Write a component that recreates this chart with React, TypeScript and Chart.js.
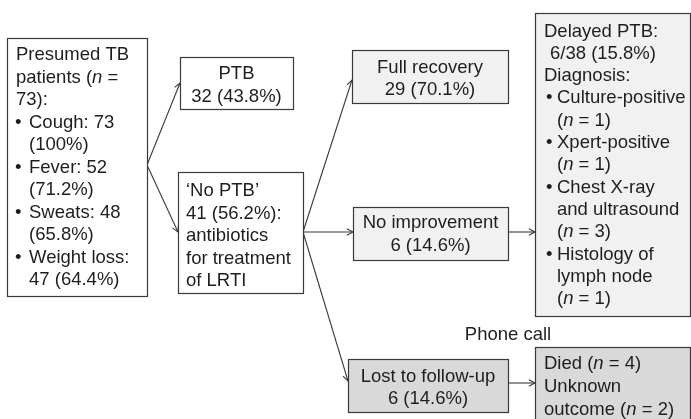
import React, { useEffect, useRef } from "react";
import { Chart, registerables } from "chart.js";

Chart.register(...registerables);

// ---- Texts of the flowchart (data) ----
// "• " starts a bullet line, "~" marks a continuation line under a bullet,
// "^" marks a small indent; *...* is italic.
const startLines = [
  "Presumed TB",
  "patients (*n* =",
  "73):",
  "• Cough: 73",
  "~(100%)",
  "• Fever: 52",
  "~(71.2%)",
  "• Sweats: 48",
  "~(65.8%)",
  "• Weight loss:",
  "~47 (64.4%)",
];
const ptbLines = ["PTB", "32 (43.8%)"];
const noPtbLines = ["‘No PTB’", "41 (56.2%):", "antibiotics", "for treatment", "of LRTI"];
const recoveryLines = ["Full recovery", "29 (70.1%)"];
const noImproveLines = ["No improvement", "6 (14.6%)"];
const delayedLines = [
  "Delayed PTB:",
  "^6/38 (15.8%)",
  "Diagnosis:",
  "• Culture-positive",
  "~(*n* = 1)",
  "• Xpert-positive",
  "~(*n* = 1)",
  "• Chest X-ray",
  "~and ultrasound",
  "~(*n* = 3)",
  "• Histology of",
  "~lymph node",
  "~(*n* = 1)",
];
const lostLines = ["Lost to follow-up", "6 (14.6%)"];
const outcomeLines = ["Died (*n* = 4)", "Unknown", "outcome (*n* = 2)"];
const phoneLabel = "Phone call";

// ---- Layout (positions in the 691 x 419 frame, mapped through the scales) ----
type Box = {
  lines: string[];
  x0: number; y0: number; x1: number; y1: number;
  fill: string;
  align: "left" | "center";
  tx: number; bx: number; ix: number; cx: number;
  base: number; step: number;
};

const WHITE = "#ffffff";
const LIGHT = "#f1f1f1";
const DARK = "#d9d9d9";

const boxes: Box[] = [
  { lines: startLines, x0: 7, y0: 38, x1: 147, y1: 296, fill: WHITE, align: "left", tx: 16, bx: 15, ix: 16, cx: 29, base: 60, step: 22.5 },
  { lines: ptbLines, x0: 180, y0: 57, x1: 293, y1: 109, fill: WHITE, align: "center", tx: 0, bx: 0, ix: 0, cx: 0, base: 79, step: 22.5 },
  { lines: noPtbLines, x0: 178, y0: 172, x1: 303, y1: 293, fill: WHITE, align: "left", tx: 186, bx: 186, ix: 186, cx: 186, base: 196, step: 22.5 },
  { lines: recoveryLines, x0: 352, y0: 50, x1: 508, y1: 103, fill: LIGHT, align: "center", tx: 0, bx: 0, ix: 0, cx: 0, base: 72.5, step: 22.5 },
  { lines: noImproveLines, x0: 353, y0: 207, x1: 508, y1: 260, fill: LIGHT, align: "center", tx: 0, bx: 0, ix: 0, cx: 0, base: 228, step: 22.5 },
  { lines: delayedLines, x0: 535, y0: 13, x1: 690, y1: 316, fill: LIGHT, align: "left", tx: 544, bx: 546, ix: 550, cx: 557, base: 36.5, step: 22.3 },
  { lines: lostLines, x0: 348, y0: 359, x1: 508, y1: 412, fill: DARK, align: "center", tx: 0, bx: 0, ix: 0, cx: 0, base: 381.5, step: 22.5 },
  { lines: outcomeLines, x0: 535, y0: 347, x1: 690, y1: 430, fill: DARK, align: "left", tx: 544, bx: 544, ix: 544, cx: 544, base: 369, step: 23 },
];

const arrows: [number, number, number, number][] = [
  [147, 165, 180, 83],
  [147, 165, 178, 232],
  [303, 232, 352, 80],
  [303, 232, 353, 232],
  [508, 232, 535, 232],
  [303, 232, 348, 381],
  [508, 383, 535, 383],
];

const phonePos = { x: 508, y: 340 };

const FONT_FAMILY = "'Liberation Sans', Arial, Helvetica, sans-serif";
const FONT_SIZE = 18.5;
const TEXT_COLOR = "#1e1e1e";
const LINE_COLOR = "#3a3a3a";

function segments(s: string): { t: string; it: boolean }[] {
  const parts = s.split("*");
  return parts.map((t, i) => ({ t, it: i % 2 === 1 })).filter((p) => p.t.length > 0);
}

function setFont(ctx: CanvasRenderingContext2D, italic: boolean) {
  ctx.font = `${italic ? "italic " : ""}${FONT_SIZE}px ${FONT_FAMILY}`;
}

function measure(ctx: CanvasRenderingContext2D, s: string) {
  let w = 0;
  for (const seg of segments(s)) {
    setFont(ctx, seg.it);
    w += ctx.measureText(seg.t).width;
  }
  return w;
}

function drawRich(ctx: CanvasRenderingContext2D, s: string, x: number, y: number) {
  let cx = x;
  for (const seg of segments(s)) {
    setFont(ctx, seg.it);
    ctx.fillText(seg.t, cx, y);
    cx += ctx.measureText(seg.t).width;
  }
}

const flowPlugin = {
  id: "flow",
  afterDraw(chart: any) {
    const ctx: CanvasRenderingContext2D = chart.ctx;
    const xs = chart.scales.x;
    const ys = chart.scales.y;
    const X = (v: number) => xs.getPixelForValue(v);
    const Y = (v: number) => ys.getPixelForValue(v);
    ctx.save();
    ctx.textBaseline = "alphabetic";
    ctx.textAlign = "left";

    // arrows
    ctx.strokeStyle = LINE_COLOR;
    ctx.lineWidth = 1.1;
    for (const [a, b, c, d] of arrows) {
      const x1 = X(a), y1 = Y(b), x2 = X(c), y2 = Y(d);
      ctx.beginPath();
      ctx.moveTo(x1, y1);
      ctx.lineTo(x2, y2);
      ctx.stroke();
      const ang = Math.atan2(y2 - y1, x2 - x1);
      const L = 7, spread = 0.5;
      ctx.beginPath();
      ctx.moveTo(x2 - L * Math.cos(ang - spread), y2 - L * Math.sin(ang - spread));
      ctx.lineTo(x2, y2);
      ctx.lineTo(x2 - L * Math.cos(ang + spread), y2 - L * Math.sin(ang + spread));
      ctx.stroke();
    }

    // boxes
    for (const b of boxes) {
      const x0 = Math.round(X(b.x0)) + 0.5;
      const y0 = Math.round(Y(b.y0)) + 0.5;
      const x1 = Math.round(X(b.x1)) + 0.5;
      const y1 = Math.round(Y(b.y1)) + 0.5;
      ctx.fillStyle = b.fill;
      ctx.fillRect(x0, y0, x1 - x0, y1 - y0);
      ctx.strokeStyle = LINE_COLOR;
      ctx.lineWidth = 1.2;
      ctx.strokeRect(x0, y0, x1 - x0, y1 - y0);

      ctx.fillStyle = TEXT_COLOR;
      b.lines.forEach((line, i) => {
        const y = Y(b.base + i * b.step);
        if (b.align === "center") {
          const w = measure(ctx, line);
          drawRich(ctx, line, (X(b.x0) + X(b.x1)) / 2 - w / 2, y);
          return;
        }
        if (line.startsWith("• ")) {
          setFont(ctx, false);
          ctx.fillText("•", X(b.bx), y);
          drawRich(ctx, line.slice(2), X(b.cx), y);
        } else if (line.startsWith("~")) {
          drawRich(ctx, line.slice(1), X(b.cx), y);
        } else if (line.startsWith("^")) {
          drawRich(ctx, line.slice(1), X(b.ix), y);
        } else {
          drawRich(ctx, line, X(b.tx), y);
        }
      });
    }

    // free label
    ctx.fillStyle = TEXT_COLOR;
    const w = measure(ctx, phoneLabel);
    drawRich(ctx, phoneLabel, X(phonePos.x) - w / 2, Y(phonePos.y));
    ctx.restore();
  },
};

export default function App() {
  const ref = useRef<HTMLCanvasElement | null>(null);
  useEffect(() => {
    document.body.style.margin = "0";
    document.body.style.background = "#ffffff";
    if (!ref.current) return;
    const chart = new Chart(ref.current, {
      type: "scatter",
      data: { datasets: [{ data: [] }] },
      options: {
        animation: false,
        responsive: false,
        devicePixelRatio: window.devicePixelRatio || 1,
        layout: { padding: 0 },
        plugins: { legend: { display: false }, tooltip: { enabled: false } },
        scales: {
          x: { type: "linear", min: 0, max: 691, display: false },
          y: { type: "linear", min: 0, max: 419, reverse: true, display: false },
        },
      },
      plugins: [flowPlugin],
    });
    return () => chart.destroy();
  }, []);
  return (
    <div style={{ width: 691, height: 419, background: "#fff" }}>
      <canvas ref={ref} width={691} height={419} style={{ display: "block" }} />
    </div>
  );
}
